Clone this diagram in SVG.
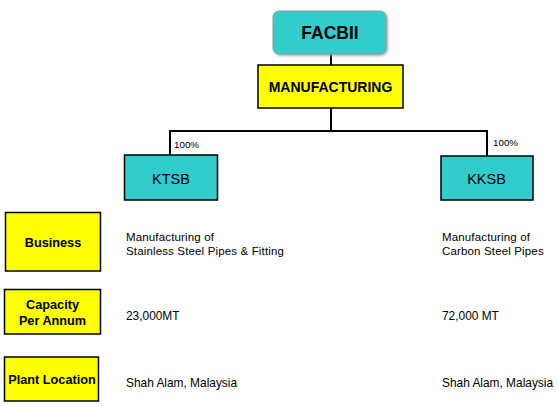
<svg xmlns="http://www.w3.org/2000/svg" width="559" height="406" viewBox="0 0 559 406">
<style>
.t{font-family:"Liberation Sans",Arial,sans-serif;fill:#000}
.b{font-weight:bold;text-anchor:middle}
.box{stroke:#000;stroke-width:1.5}
.y{fill:#FFFF00}
.c{fill:#33CCCC}
.ln{stroke:#000;stroke-width:2;fill:none}
.s{font-size:11.9px}
.s2{font-size:11.5px;letter-spacing:0.15px}
.lb{font-size:12.7px}
.p{font-size:9.8px}
</style>
<defs>
<filter id="sh" x="-10%" y="-10%" width="130%" height="140%">
<feDropShadow dx="1.5" dy="1.5" stdDeviation="0.8" flood-color="#999" flood-opacity="0.8"/>
</filter>
</defs>
<rect width="559" height="406" fill="#fff"/>
<g id="connectors">
<line class="ln" x1="331" y1="54" x2="331" y2="65"/>
<polyline class="ln" points="331,108 331,131"/>
<polyline class="ln" points="170,155 170,131 487,131 487,156"/>
</g>
<g id="facbii">
<rect x="273" y="11" width="113" height="43" rx="6" fill="#33CCCC" stroke="#999" stroke-width="1" filter="url(#sh)"/>
<text class="t b" x="330" y="39" font-size="17.5">FACBII</text>
</g>
<g id="manufacturing">
<rect class="box y" x="258" y="65" width="145" height="43"/>
<text class="t b" x="330.5" y="92" font-size="14">MANUFACTURING</text>
</g>
<g id="ktsb">
<rect class="box c" x="124.5" y="155" width="93" height="45"/>
<text class="t" x="171" y="183.5" font-size="14.5" text-anchor="middle">KTSB</text>
<text class="t p" x="174" y="148">100%</text>
</g>
<g id="kksb">
<rect class="box c" x="441" y="156" width="92" height="44"/>
<text class="t" x="486.5" y="183.5" font-size="14.5" text-anchor="middle">KKSB</text>
<text class="t p" x="493" y="146">100%</text>
</g>
<g id="business">
<rect class="box y" x="5.5" y="212.5" width="95" height="58.5"/>
<text class="t b lb" x="53" y="246.5">Business</text>
</g>
<g id="capacity">
<rect class="box y" x="4.5" y="289.5" width="96" height="44.5"/>
<text class="t b lb" x="52.5" y="309">Capacity</text>
<text class="t b lb" x="52.5" y="324.5">Per Annum</text>
</g>
<g id="plant">
<rect class="box y" x="4.5" y="357" width="94" height="44"/>
<text class="t b lb" x="52" y="384">Plant Location</text>
</g>
<g id="details">
<text class="t s2" x="126" y="240.5">Manufacturing of</text>
<text class="t s2" x="126" y="254.5">Stainless Steel Pipes &amp; Fitting</text>
<text class="t s" x="126" y="320">23,000MT</text>
<text class="t s" x="126" y="387">Shah Alam, Malaysia</text>
<text class="t s2" x="442" y="240.5">Manufacturing of</text>
<text class="t s2" x="442" y="254.5">Carbon Steel Pipes</text>
<text class="t s" x="442" y="320">72,000 MT</text>
<text class="t s" x="442" y="387">Shah Alam, Malaysia</text>
</g>
</svg>
